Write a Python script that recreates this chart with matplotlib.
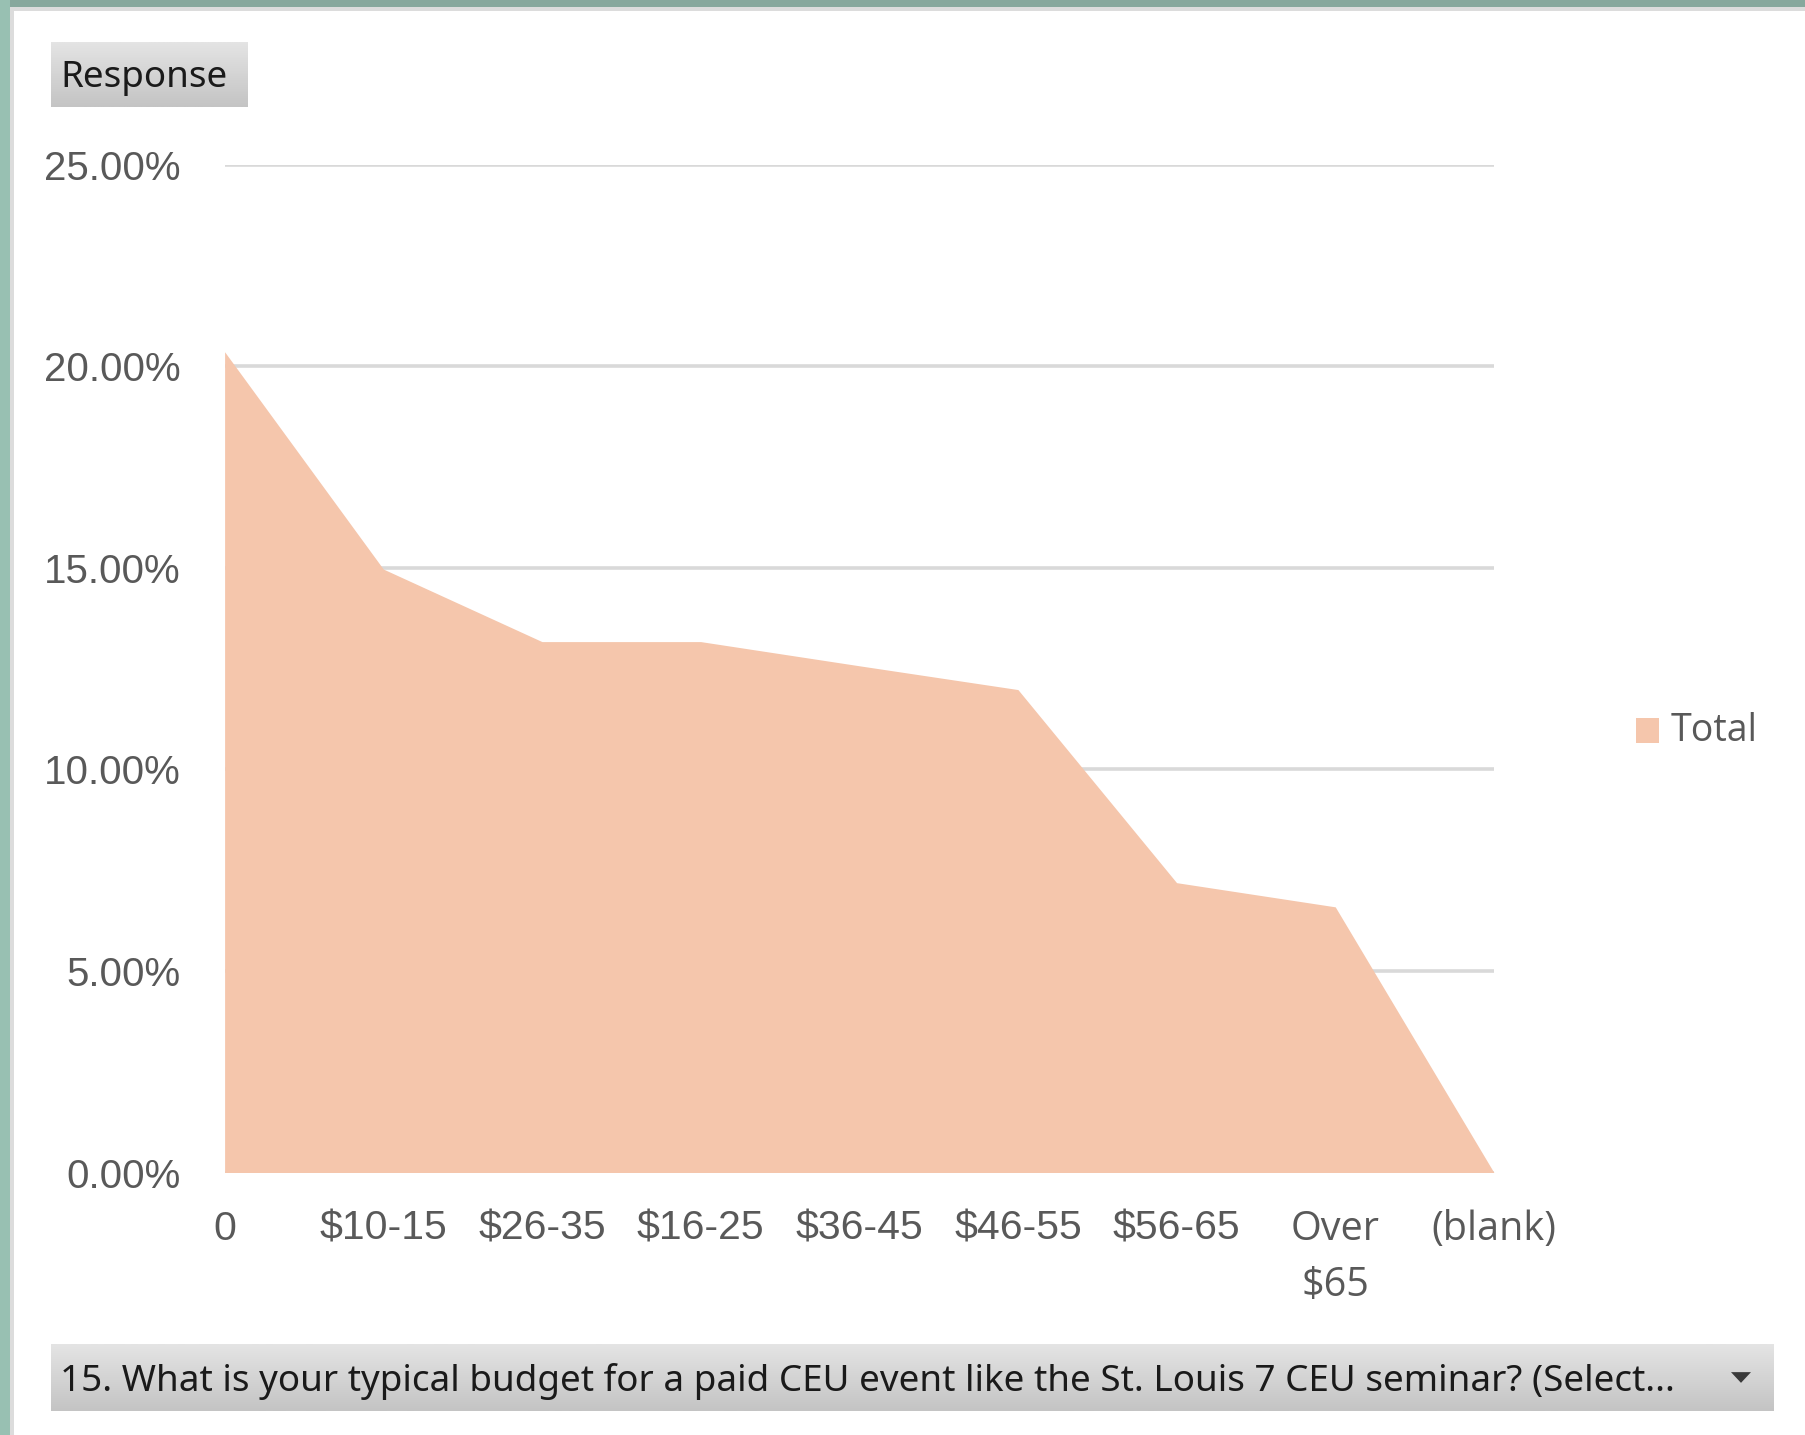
import numpy as np
import matplotlib
matplotlib.use("Agg")
import matplotlib.pyplot as plt
from matplotlib.patches import Rectangle, Polygon
from matplotlib.colors import LinearSegmentedColormap

# data (share of responses, %)
categories = ["0", "$10-15", "$26-35", "$16-25", "$36-45", "$46-55", "$56-65", "Over\n$65", "(blank)"]
totals = [20.36, 14.97, 13.17, 13.17, 12.57, 11.98, 7.19, 6.59, 0.0]
yticks = [0, 5, 10, 15, 20, 25]
series_name = "Total"
button_text = "Response"
question = "15. What is your typical budget for a paid CEU event like the St. Louis 7 CEU seminar? (Select..."

W, H = 1806, 1435
fig = plt.figure(figsize=(W / 100, H / 100), dpi=100, facecolor="white")

def px(x0, y0, x1, y1):
    # pixel box (top-left origin) -> figure fraction rect
    return [x0 / W, 1 - y1 / H, (x1 - x0) / W, (y1 - y0) / H]

# window frame
frame = fig.add_axes([0, 0, 1, 1], zorder=-5)
frame.set_xlim(0, W)
frame.set_ylim(H, 0)
frame.axis("off")
frame.add_patch(Rectangle((0, 0), W, 7, color="#87a89d", lw=0))
frame.add_patch(Rectangle((0, 0), 10, H, color="#98c0b2", lw=0))
frame.add_patch(Rectangle((10, 7), W, 4, color="#dcdcdc", lw=0))
frame.add_patch(Rectangle((10, 7), 4, H, color="#dcdcdc", lw=0))

grad = np.linspace(0, 1, 64).reshape(-1, 1)
btn_cmap = LinearSegmentedColormap.from_list("btn", ["#e4e4e4", "#c4c4c4"])

def button(box, label, arrow=False):
    bax = fig.add_axes(px(*box))
    bax.imshow(grad, aspect="auto", cmap=btn_cmap, extent=[0, 1, 1, 0])
    bax.set_xlim(0, 1)
    bax.set_ylim(1, 0)
    bax.axis("off")
    bw = box[2] - box[0]
    bax.text(9 / bw, 0.56, label, fontsize=26.5, family="Noto Sans", color="#1a1a1a",
             va="center", ha="left")
    if arrow:
        cx = (1741 - box[0]) / bw
        hw = 10 / bw
        bax.add_patch(Polygon([[cx - hw, 0.42], [cx + hw, 0.42], [cx, 0.58]],
                              closed=True, color="#3a3a3a", lw=0))

button((51, 42, 248, 107), button_text)
button((51, 1344, 1774, 1411), question, arrow=True)

# chart
ax = fig.add_axes(px(224.6, 164.7, 1493.9, 1172.5))
x = np.arange(len(categories))
ax.fill_between(x, totals, 0, color="#f5c6ac", lw=0, zorder=3)
ax.set_xlim(0, len(categories) - 1)
ax.set_ylim(0, 25)
ax.set_yticks(yticks)
ax.set_yticklabels([f"{v:.2f}%" for v in yticks])
ax.set_xticks(x)
ax.set_xticklabels(categories, linespacing=1.5)
ax.grid(axis="y", color="#d9d9d9", lw=2.6, zorder=1)
ax.set_axisbelow(True)
for s in ax.spines.values():
    s.set_visible(False)
ax.tick_params(length=0, colors="#595959")
ax.tick_params(axis="y", pad=32, labelsize=29)
ax.tick_params(axis="x", pad=27, labelsize=29.5)
for lab in ax.get_yticklabels() + ax.get_xticklabels():
    lab.set_family("Liberation Sans")
for lab in ax.get_xticklabels():
    if lab.get_text()[:1] in "O(":
        lab.set_family("Open Sans")
        lab.set_fontsize(28.5)
        lab.set_verticalalignment("top")

# legend
lax = fig.add_axes([0, 0, 1, 1], zorder=-1)
lax.set_xlim(0, W)
lax.set_ylim(H, 0)
lax.axis("off")
lax.add_patch(Rectangle((1636, 718), 23, 25, color="#f5c6ac", lw=0))
lax.text(1671, 731, series_name, fontsize=27, family="Open Sans", color="#595959",
         va="center", ha="left")

fig.savefig("out.png", dpi=100, facecolor="white")
